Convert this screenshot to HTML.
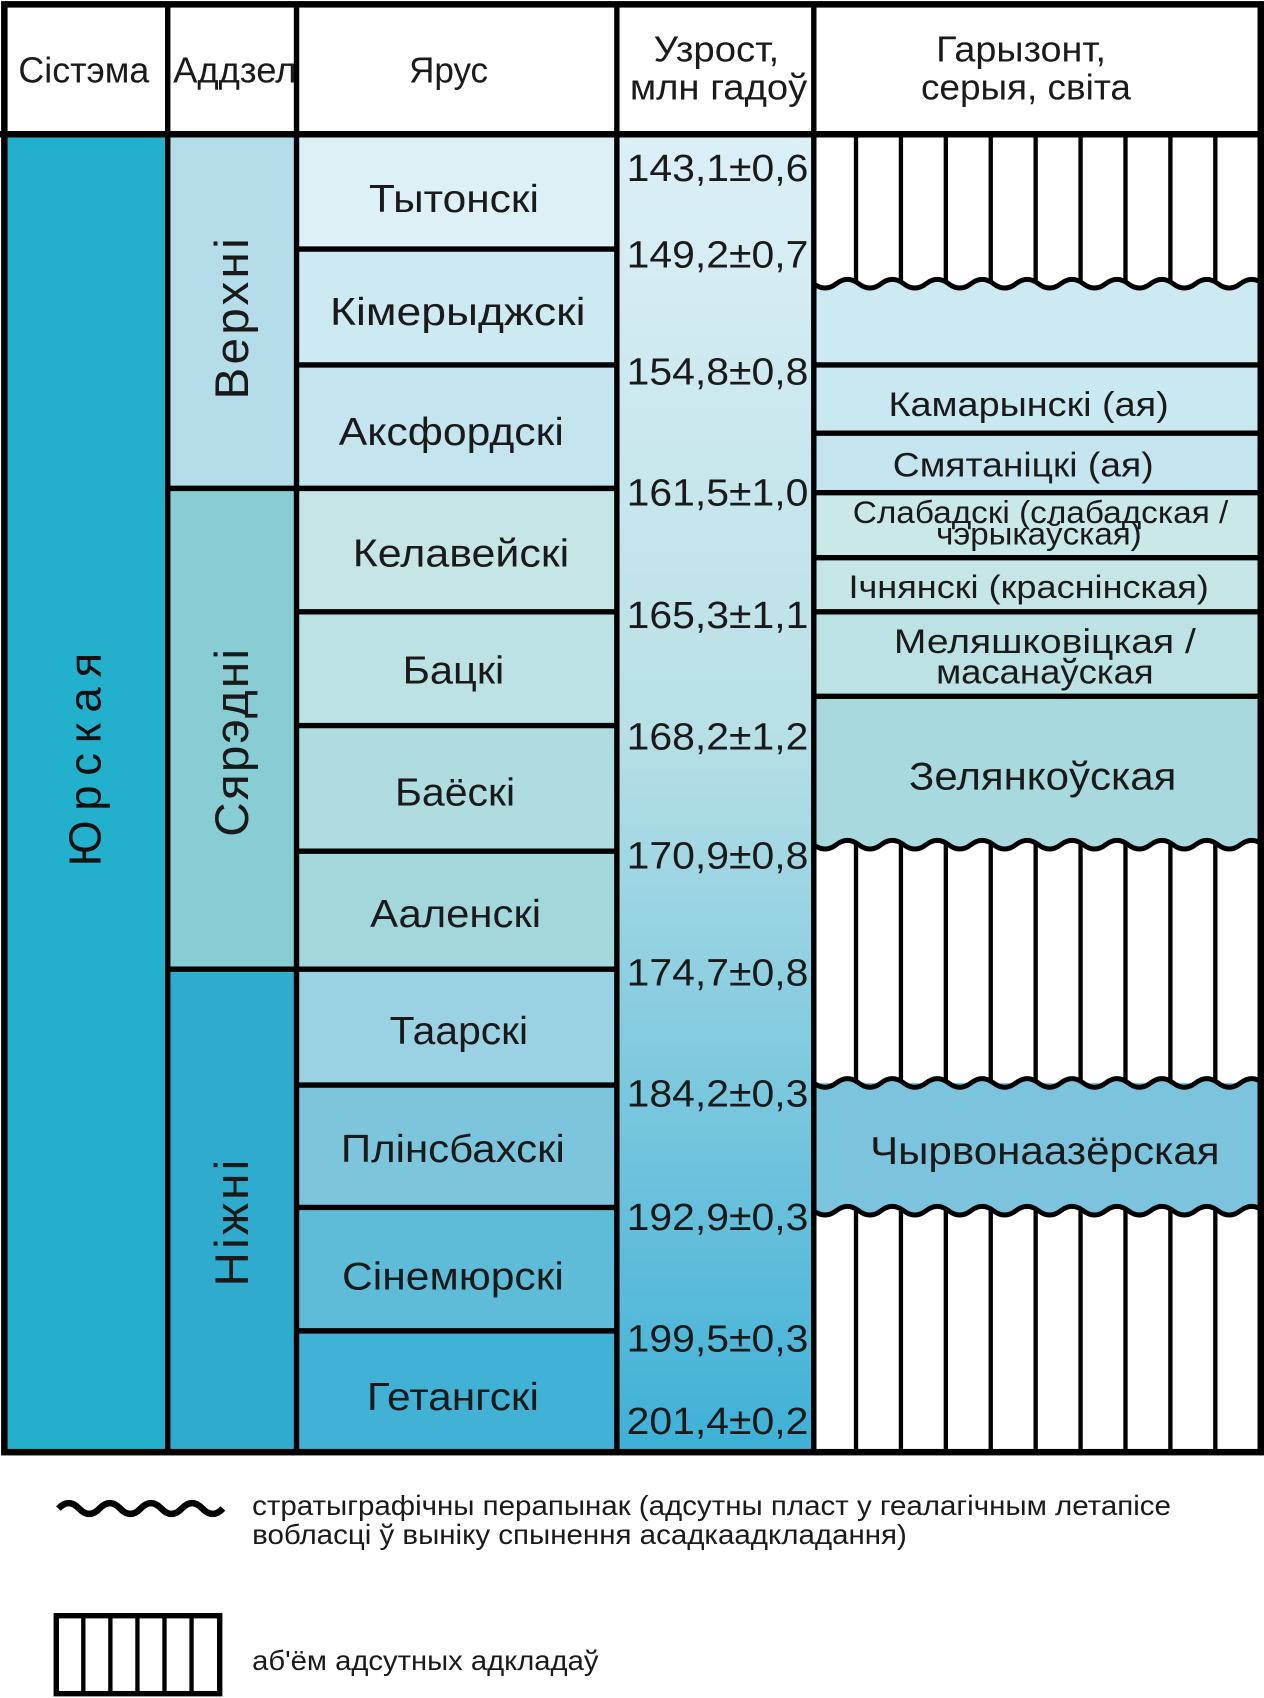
<!DOCTYPE html>
<html><head><meta charset="utf-8"><style>
html,body{margin:0;padding:0;background:#fff}
svg{display:block}
text{font-family:"Liberation Sans","DejaVu Sans",sans-serif;fill:#1a1a1a}
</style></head><body>
<svg width="1264" height="1698" viewBox="0 0 1168 1568" preserveAspectRatio="none" xmlns="http://www.w3.org/2000/svg">
<defs>
<linearGradient id="ag" x1="0" y1="0" x2="0" y2="1">
<stop offset="0" stop-color="#dcf0f6"/><stop offset="0.45" stop-color="#b8e0e6"/><stop offset="1" stop-color="#3eb0d6"/>
</linearGradient>
<clipPath id="c1"><path d="M752 124 V262 q10.375 8 20.75 0 t20.75 0 t20.75 0 t20.75 0 t20.75 0 t20.75 0 t20.75 0 t20.75 0 t20.75 0 t20.75 0 t20.75 0 t20.75 0 t20.75 0 t20.75 0 t20.75 0 t20.75 0 t20.75 0 t20.75 0 t20.75 0 t20.75 0 V124 Z"/></clipPath>
<clipPath id="c2"><path d="M752 780 q10.375 8 20.75 0 t20.75 0 t20.75 0 t20.75 0 t20.75 0 t20.75 0 t20.75 0 t20.75 0 t20.75 0 t20.75 0 t20.75 0 t20.75 0 t20.75 0 t20.75 0 t20.75 0 t20.75 0 t20.75 0 t20.75 0 t20.75 0 t20.75 0 V1000 H752 Z"/></clipPath>
<clipPath id="c3"><path d="M752 1118 q10.375 8 20.75 0 t20.75 0 t20.75 0 t20.75 0 t20.75 0 t20.75 0 t20.75 0 t20.75 0 t20.75 0 t20.75 0 t20.75 0 t20.75 0 t20.75 0 t20.75 0 t20.75 0 t20.75 0 t20.75 0 t20.75 0 t20.75 0 t20.75 0 V1341 H752 Z"/></clipPath>
<g id="hl" stroke="#000" stroke-width="4">
<line x1="791" y1="100" x2="791" y2="1360"/><line x1="832.5" y1="100" x2="832.5" y2="1360"/><line x1="874" y1="100" x2="874" y2="1360"/><line x1="915.5" y1="100" x2="915.5" y2="1360"/><line x1="957" y1="100" x2="957" y2="1360"/><line x1="998.5" y1="100" x2="998.5" y2="1360"/><line x1="1040" y1="100" x2="1040" y2="1360"/><line x1="1081.5" y1="100" x2="1081.5" y2="1360"/><line x1="1123" y1="100" x2="1123" y2="1360"/>
</g>
</defs>
<rect x="4" y="4" width="1161" height="120" fill="#fff"/>
<rect x="4" y="124" width="151" height="1217" fill="#22b0cc"/>
<rect x="155" y="124" width="119" height="327" fill="#b5dde9"/>
<rect x="155" y="451" width="119" height="444" fill="#88cdd4"/>
<rect x="155" y="895" width="119" height="446" fill="#2fabce"/>
<rect x="274" y="124" width="296" height="106" fill="#dcf0f6"/>
<rect x="274" y="230" width="296" height="107" fill="#cde9f2"/>
<rect x="274" y="337" width="296" height="114" fill="#c4e5ef"/>
<rect x="274" y="451" width="296" height="114" fill="#c6e6e6"/>
<rect x="274" y="565" width="296" height="105" fill="#bde2e3"/>
<rect x="274" y="670" width="296" height="116" fill="#aedcdf"/>
<rect x="274" y="786" width="296" height="109" fill="#a3d7dc"/>
<rect x="274" y="895" width="296" height="107" fill="#9ad2e4"/>
<rect x="274" y="1002" width="296" height="113" fill="#7dc5dd"/>
<rect x="274" y="1115" width="296" height="114" fill="#5ebcd8"/>
<rect x="274" y="1229" width="296" height="112" fill="#42b1d6"/>
<rect x="570" y="124" width="182" height="1217" fill="url(#ag)"/>
<rect x="752" y="124" width="413" height="213" fill="#cde9f2"/>
<rect x="752" y="337" width="413" height="63" fill="#cae8f1"/>
<rect x="752" y="400" width="413" height="55" fill="#c4e5ef"/>
<rect x="752" y="455" width="413" height="60" fill="#cbe8e9"/>
<rect x="752" y="515" width="413" height="50" fill="#c6e6e6"/>
<rect x="752" y="565" width="413" height="78" fill="#bde2e3"/>
<rect x="752" y="643" width="413" height="150" fill="#a8d9de"/>
<rect x="752" y="990" width="413" height="140" fill="#7cc4dd"/>
<path d="M752 124 V262 q10.375 8 20.75 0 t20.75 0 t20.75 0 t20.75 0 t20.75 0 t20.75 0 t20.75 0 t20.75 0 t20.75 0 t20.75 0 t20.75 0 t20.75 0 t20.75 0 t20.75 0 t20.75 0 t20.75 0 t20.75 0 t20.75 0 t20.75 0 t20.75 0 V124 Z" fill="#fff"/>
<path d="M752 780 q10.375 8 20.75 0 t20.75 0 t20.75 0 t20.75 0 t20.75 0 t20.75 0 t20.75 0 t20.75 0 t20.75 0 t20.75 0 t20.75 0 t20.75 0 t20.75 0 t20.75 0 t20.75 0 t20.75 0 t20.75 0 t20.75 0 t20.75 0 t20.75 0 V1000 H752 Z" fill="#fff"/>
<path d="M752 1000 q10.375 8 20.75 0 t20.75 0 t20.75 0 t20.75 0 t20.75 0 t20.75 0 t20.75 0 t20.75 0 t20.75 0 t20.75 0 t20.75 0 t20.75 0 t20.75 0 t20.75 0 t20.75 0 t20.75 0 t20.75 0 t20.75 0 t20.75 0 t20.75 0 V1130 H752 Z" fill="#7cc4dd"/>
<path d="M752 1118 q10.375 8 20.75 0 t20.75 0 t20.75 0 t20.75 0 t20.75 0 t20.75 0 t20.75 0 t20.75 0 t20.75 0 t20.75 0 t20.75 0 t20.75 0 t20.75 0 t20.75 0 t20.75 0 t20.75 0 t20.75 0 t20.75 0 t20.75 0 t20.75 0 V1341 H752 Z" fill="#fff"/>
<use href="#hl" clip-path="url(#c1)"/>
<use href="#hl" clip-path="url(#c2)"/>
<use href="#hl" clip-path="url(#c3)"/>
<g fill="none" stroke="#000" stroke-width="4.5">
<path d="M752 262 q10.375 8 20.75 0 t20.75 0 t20.75 0 t20.75 0 t20.75 0 t20.75 0 t20.75 0 t20.75 0 t20.75 0 t20.75 0 t20.75 0 t20.75 0 t20.75 0 t20.75 0 t20.75 0 t20.75 0 t20.75 0 t20.75 0 t20.75 0 t20.75 0"/>
<path d="M752 780 q10.375 8 20.75 0 t20.75 0 t20.75 0 t20.75 0 t20.75 0 t20.75 0 t20.75 0 t20.75 0 t20.75 0 t20.75 0 t20.75 0 t20.75 0 t20.75 0 t20.75 0 t20.75 0 t20.75 0 t20.75 0 t20.75 0 t20.75 0 t20.75 0"/>
<path d="M752 1000 q10.375 8 20.75 0 t20.75 0 t20.75 0 t20.75 0 t20.75 0 t20.75 0 t20.75 0 t20.75 0 t20.75 0 t20.75 0 t20.75 0 t20.75 0 t20.75 0 t20.75 0 t20.75 0 t20.75 0 t20.75 0 t20.75 0 t20.75 0 t20.75 0"/>
<path d="M752 1118 q10.375 8 20.75 0 t20.75 0 t20.75 0 t20.75 0 t20.75 0 t20.75 0 t20.75 0 t20.75 0 t20.75 0 t20.75 0 t20.75 0 t20.75 0 t20.75 0 t20.75 0 t20.75 0 t20.75 0 t20.75 0 t20.75 0 t20.75 0 t20.75 0"/>
</g>
<g stroke="#000" stroke-width="5">
<line x1="274" y1="230" x2="570" y2="230"/><line x1="274" y1="337" x2="570" y2="337"/>
<line x1="155" y1="451" x2="570" y2="451"/><line x1="274" y1="565" x2="570" y2="565"/>
<line x1="274" y1="670" x2="570" y2="670"/><line x1="274" y1="786" x2="570" y2="786"/>
<line x1="155" y1="895" x2="570" y2="895"/><line x1="274" y1="1002" x2="570" y2="1002"/>
<line x1="274" y1="1115" x2="570" y2="1115"/><line x1="274" y1="1229" x2="570" y2="1229"/>
<line x1="752" y1="337" x2="1165" y2="337"/><line x1="752" y1="400" x2="1165" y2="400"/>
<line x1="752" y1="455" x2="1165" y2="455"/><line x1="752" y1="515" x2="1165" y2="515"/>
<line x1="752" y1="565" x2="1165" y2="565"/><line x1="752" y1="643" x2="1165" y2="643"/>
<line x1="0" y1="124" x2="1168" y2="124" stroke-width="6"/>
<line x1="155" y1="4" x2="155" y2="1341"/><line x1="274" y1="4" x2="274" y2="1341"/>
<line x1="570" y1="4" x2="570" y2="1341"/><line x1="752" y1="4" x2="752" y2="1341"/>
</g>
<rect x="4" y="4" width="1161" height="1337" fill="none" stroke="#000" stroke-width="6"/>
<g font-size="33" lengthAdjust="spacingAndGlyphs">
<text x="17" y="76" textLength="121" lengthAdjust="spacingAndGlyphs">Сістэма</text>
<text x="160" y="76" textLength="114" lengthAdjust="spacingAndGlyphs">Аддзел</text>
<text x="378" y="76" textLength="73" lengthAdjust="spacingAndGlyphs">Ярус</text>
<text x="604" y="57" textLength="116" lengthAdjust="spacingAndGlyphs">Узрост,</text>
<text x="582" y="92" textLength="164" lengthAdjust="spacingAndGlyphs">млн гадоў</text>
<text x="865" y="57" textLength="157" lengthAdjust="spacingAndGlyphs">Гарызонт,</text>
<text x="851" y="92" textLength="194" lengthAdjust="spacingAndGlyphs">серыя, світа</text>
</g>
<text transform="translate(93,697) rotate(-90)" font-size="42" text-anchor="middle" letter-spacing="9" style="fill:#111">Юрская</text>
<text transform="translate(229,293) rotate(-90)" font-size="44" text-anchor="middle" letter-spacing="3">Верхні</text>
<text transform="translate(229,685) rotate(-90)" font-size="44" text-anchor="middle" letter-spacing="2">Сярэдні</text>
<text transform="translate(229,1128) rotate(-90)" font-size="44" text-anchor="middle" letter-spacing="3">Ніжні</text>
<g font-size="36">
<text x="341" y="196" textLength="157" lengthAdjust="spacingAndGlyphs">Тытонскі</text>
<text x="305" y="300" textLength="236" lengthAdjust="spacingAndGlyphs">Кімерыджскі</text>
<text x="313" y="411" textLength="208" lengthAdjust="spacingAndGlyphs">Аксфордскі</text>
<text x="326" y="523" textLength="200" lengthAdjust="spacingAndGlyphs">Келавейскі</text>
<text x="372" y="631" textLength="94" lengthAdjust="spacingAndGlyphs">Бацкі</text>
<text x="365" y="744" textLength="111" lengthAdjust="spacingAndGlyphs">Баёскі</text>
<text x="342" y="856" textLength="158" lengthAdjust="spacingAndGlyphs">Ааленскі</text>
<text x="360" y="964" textLength="128" lengthAdjust="spacingAndGlyphs">Таарскі</text>
<text x="315" y="1073" textLength="207" lengthAdjust="spacingAndGlyphs">Плінсбахскі</text>
<text x="316" y="1191" textLength="205" lengthAdjust="spacingAndGlyphs">Сінемюрскі</text>
<text x="339" y="1302" textLength="159" lengthAdjust="spacingAndGlyphs">Гетангскі</text>
</g>
<g font-size="35">
<text x="579" y="167" textLength="168" lengthAdjust="spacingAndGlyphs">143,1±0,6</text>
<text x="579" y="247" textLength="168" lengthAdjust="spacingAndGlyphs">149,2±0,7</text>
<text x="579" y="355" textLength="168" lengthAdjust="spacingAndGlyphs">154,8±0,8</text>
<text x="579" y="467" textLength="168" lengthAdjust="spacingAndGlyphs">161,5±1,0</text>
<text x="579" y="580" textLength="168" lengthAdjust="spacingAndGlyphs">165,3±1,1</text>
<text x="579" y="692" textLength="168" lengthAdjust="spacingAndGlyphs">168,2±1,2</text>
<text x="579" y="802" textLength="168" lengthAdjust="spacingAndGlyphs">170,9±0,8</text>
<text x="579" y="910" textLength="168" lengthAdjust="spacingAndGlyphs">174,7±0,8</text>
<text x="579" y="1022" textLength="168" lengthAdjust="spacingAndGlyphs">184,2±0,3</text>
<text x="579" y="1136" textLength="168" lengthAdjust="spacingAndGlyphs">192,9±0,3</text>
<text x="579" y="1248" textLength="168" lengthAdjust="spacingAndGlyphs">199,5±0,3</text>
<text x="579" y="1324" textLength="168" lengthAdjust="spacingAndGlyphs">201,4±0,2</text>
</g>
<g>
<text x="821" y="384" font-size="32" textLength="259" lengthAdjust="spacingAndGlyphs">Камарынскі (ая)</text>
<text x="825" y="440" font-size="32" textLength="241" lengthAdjust="spacingAndGlyphs">Смятаніцкі (ая)</text>
<text x="788" y="483" font-size="29" textLength="347" lengthAdjust="spacingAndGlyphs">Слабадскі (слабадская /</text>
<text x="865" y="503" font-size="29" textLength="190" lengthAdjust="spacingAndGlyphs">чэрыкаўская)</text>
<text x="784" y="552" font-size="30" textLength="333" lengthAdjust="spacingAndGlyphs">Ічнянскі (краснінская)</text>
<text x="826" y="603" font-size="32" textLength="279" lengthAdjust="spacingAndGlyphs">Меляшковіцкая /</text>
<text x="865" y="631" font-size="32" textLength="201" lengthAdjust="spacingAndGlyphs">масанаўская</text>
<text x="840" y="729" font-size="36" textLength="247" lengthAdjust="spacingAndGlyphs">Зелянкоўская</text>
<text x="804" y="1075" font-size="36" textLength="323" lengthAdjust="spacingAndGlyphs">Чырвонаазёрская</text>
</g>
<path d="M54 1393 q9.5 -10 19 0 t19 0 t19 0 t19 0 t19 0 t19 0 t19 0 t19 0" fill="none" stroke="#000" stroke-width="6"/>
<text x="233" y="1399" font-size="26" textLength="849" lengthAdjust="spacingAndGlyphs">стратыграфічны перапынак (адсутны пласт у геалагічным летапісе</text>
<text x="233" y="1426" font-size="26" textLength="605" lengthAdjust="spacingAndGlyphs">вобласці ў выніку спынення асадкаадкладання)</text>
<rect x="52" y="1492" width="151" height="72" fill="#fff" stroke="#000" stroke-width="5"/>
<g stroke="#000" stroke-width="4">
<line x1="77" y1="1492" x2="77" y2="1564"/><line x1="102" y1="1492" x2="102" y2="1564"/><line x1="127" y1="1492" x2="127" y2="1564"/><line x1="152" y1="1492" x2="152" y2="1564"/><line x1="177" y1="1492" x2="177" y2="1564"/>
</g>
<text x="233" y="1542" font-size="26" textLength="320" lengthAdjust="spacingAndGlyphs">аб'ём адсутных адкладаў</text>
</svg>
</body></html>
